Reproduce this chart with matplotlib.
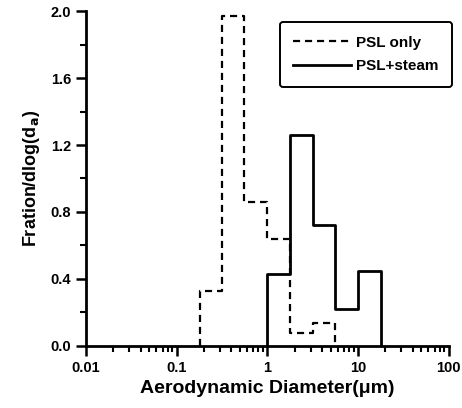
import matplotlib
matplotlib.use("Agg")
import matplotlib.pyplot as plt
from matplotlib.ticker import LogLocator, MultipleLocator, FixedFormatter, FixedLocator

# impactor stage cut points (um)
edges = [0.18, 0.32, 0.56, 1.0, 1.8, 3.2, 5.6, 10.0, 18.0]
psl_only = [0.33, 1.97, 0.86, 0.64, 0.08, 0.14, 0.0, 0.0]
psl_steam = [0.0, 0.0, 0.0, 0.43, 1.26, 0.72, 0.22, 0.45]

x_ticks = [0.01, 0.1, 1, 10, 100]
x_labels = ["0.01", "0.1", "1", "10", "100"]


def step_xy(edges, values):
    # trim leading/trailing zero bins so the outline starts and ends at its own bins
    idx = [i for i, v in enumerate(values) if v > 0]
    lo, hi = idx[0], idx[-1]
    xs = [edges[lo]]
    ys = [0.0]
    for i in range(lo, hi + 1):
        xs += [edges[i], edges[i + 1]]
        ys += [values[i], values[i]]
    xs.append(edges[hi + 1])
    ys.append(0.0)
    return xs, ys


plt.rcParams["font.family"] = ["Liberation Sans", "DejaVu Sans"]
plt.rcParams["font.weight"] = "bold"

fig = plt.figure(figsize=(4.62, 4.08), dpi=100)
ax = fig.add_axes([0.186, 0.152, 0.785, 0.821])

x1, y1 = step_xy(edges, psl_only)
x2, y2 = step_xy(edges, psl_steam)
ax.plot(x1, y1, color="black", lw=1.6, ls=(0, (3.2, 2.2)), label="PSL only")
ax.plot(x2, y2, color="black", lw=2.0, label="PSL+steam")

ax.set_xscale("log")
ax.set_xlim(0.01, 100)
ax.set_ylim(0, 2.0)
ax.xaxis.set_major_locator(FixedLocator(x_ticks))
ax.xaxis.set_major_formatter(FixedFormatter(x_labels))
ax.xaxis.set_minor_locator(LogLocator(base=10, subs=range(2, 10), numticks=20))
ax.yaxis.set_major_locator(MultipleLocator(0.4))
ax.yaxis.set_minor_locator(MultipleLocator(0.2))
ax.yaxis.set_major_formatter(matplotlib.ticker.FormatStrFormatter("%.1f"))

for side in ["top", "right"]:
    ax.spines[side].set_visible(False)
for side in ["left", "bottom"]:
    ax.spines[side].set_linewidth(2.0)

ax.tick_params(which="major", length=7, width=1.8, labelsize=10.5, direction="out")
ax.tick_params(which="minor", length=4, width=1.5, direction="out")

ax.set_xlabel("Aerodynamic Diameter(\u03bcm)", fontsize=14, fontweight="bold", labelpad=4)
ax.set_ylabel("Fration/dlog(d$_\\mathbf{a}$)", fontsize=13, fontweight="bold", labelpad=6)

leg = ax.legend(loc="upper right", bbox_to_anchor=(1.01, 0.967), borderaxespad=0,
                fontsize=11, frameon=True, fancybox=True, edgecolor="black",
                handlelength=3.8, borderpad=0.9, labelspacing=0.6, handletextpad=0.3)
leg.get_frame().set_linewidth(1.4)
leg.get_frame().set_alpha(1)

fig.savefig("out.png", dpi=100)
